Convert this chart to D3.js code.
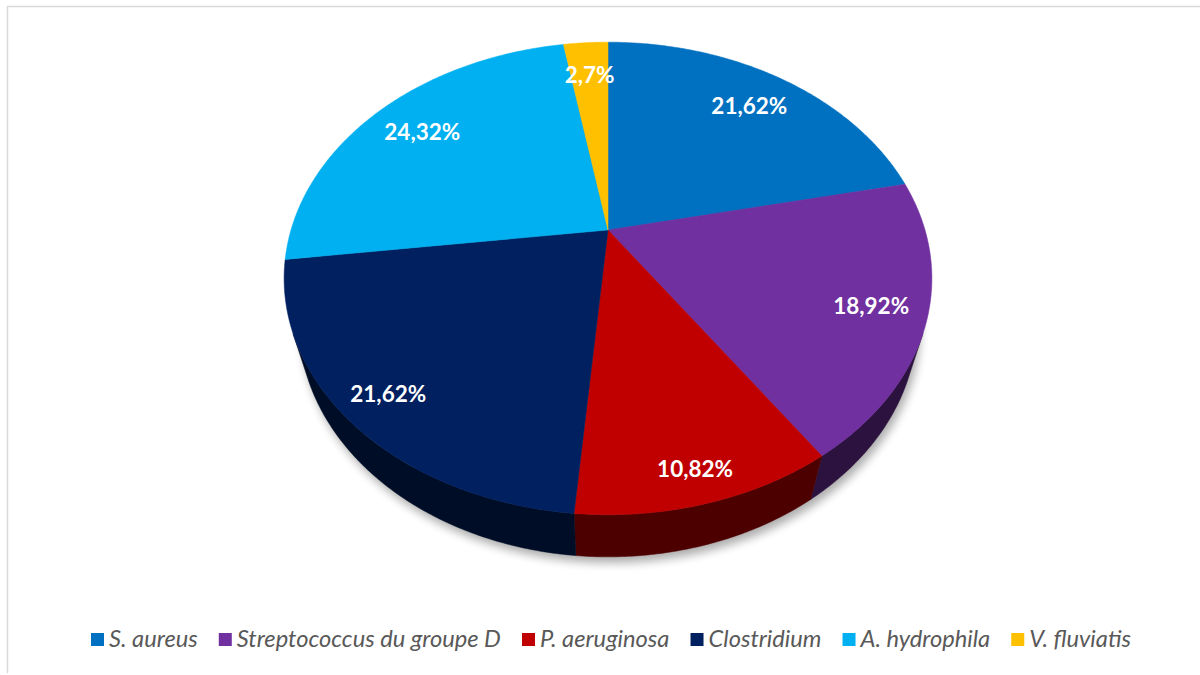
<!DOCTYPE html>
<html>
<head>
<meta charset="utf-8">
<script src="https://cdnjs.cloudflare.com/ajax/libs/d3/7.8.5/d3.min.js"></script>
<style>
  html, body { margin: 0; padding: 0; background: #ffffff; }
  svg { display: block; }
</style>
</head>
<body>
<svg id="chart" width="1200" height="675"></svg>
<script>
// Bacterial species share (%)
const categories = ["S. aureus", "Streptococcus du groupe D", "P. aeruginosa", "Clostridium", "A. hydrophila", "V. fluviatis"];
const values = [21.62, 18.92, 10.82, 21.62, 24.32, 2.7];
const colors = ["#0070C0", "#7030A0", "#C00000", "#002060", "#00B0F0", "#FFC000"];

const W = 1200, H = 675;
const svg = d3.select("#chart");

// --- perspective camera for the tilted pie ---
const cx = 608, cy = 230;        // screen position of the pie centre
const D = 3.415;                 // camera distance (pie radius = 1)
const F = 1082.6;                // focal length in px
const sinA = 0.714, cosA = Math.sqrt(1 - sinA * sinA);
const thick = 0.218;             // slab thickness

function project(theta, r, y) {
  const x = r * Math.sin(theta), z = r * Math.cos(theta);
  const depth = D - y * sinA + z * cosA;
  const up = y * cosA + z * sinA;
  return [cx + F * x / depth, cy - F * up / depth];
}

const pie = d3.pie().sort(null).value(d => d).startAngle(0).endAngle(2 * Math.PI);
const arcs = pie(values).map((a, i) => ({ ...a, color: colors[i], name: categories[i] }));

function rimPoints(a0, a1, y) {
  const n = Math.max(2, Math.ceil((a1 - a0) / (Math.PI / 360)));
  return d3.range(n + 1).map(k => project(a0 + (a1 - a0) * k / n, 1, y));
}
const line = d3.line().curve(d3.curveLinear);

// border of the chart area
svg.append("line").attr("x1", 7).attr("x2", W).attr("y1", 6.5).attr("y2", 6.5)
  .attr("stroke", "#d9d9d9").attr("stroke-width", 1.5);
svg.append("line").attr("x1", 7.5).attr("x2", 7.5).attr("y1", 6).attr("y2", 673)
  .attr("stroke", "#d9d9d9").attr("stroke-width", 1.5);

// soft drop shadow below the slab
const defs = svg.append("defs");
defs.append("filter").attr("id", "soft").attr("x", "-20%").attr("y", "-20%")
  .attr("width", "140%").attr("height", "140%")
  .append("feGaussianBlur").attr("stdDeviation", 5);

const g = svg.append("g");
g.append("path")
  .attr("d", line(rimPoints(0, 2 * Math.PI, -thick)) + "Z")
  .attr("transform", "translate(3,6)")
  .attr("fill", "#000").attr("opacity", 0.32)
  .attr("filter", "url(#soft)");

// outer side walls: only the front part that faces the camera
const cosLimit = -1 / (D * cosA);
const sides = [];
arcs.forEach(a => {
  const n = 720;
  let seg = null;
  for (let k = 0; k <= n; k++) {
    const t = a.startAngle + (a.endAngle - a.startAngle) * k / n;
    const vis = Math.cos(t) < cosLimit;
    if (vis && !seg) seg = [t, t];
    if (vis) seg[1] = t;
    if ((!vis || k === n) && seg) { sides.push({ a0: seg[0], a1: seg[1], color: a.color }); seg = null; }
  }
});
sides.forEach(s => {
  const top = rimPoints(s.a0, s.a1, 0);
  const bot = rimPoints(s.a0, s.a1, -thick).reverse();
  g.append("path")
    .attr("d", line(top.concat(bot)) + "Z")
    .attr("fill", d3.color(s.color).darker(2.6))
    .attr("stroke", d3.color(s.color).darker(2.6)).attr("stroke-width", 0.5);
});

// top faces
arcs.forEach(a => {
  const pts = [project(0, 0, 0)].concat(rimPoints(a.startAngle, a.endAngle, 0));
  g.append("path")
    .attr("d", line(pts) + "Z")
    .attr("fill", a.color)
    .attr("stroke", a.color).attr("stroke-width", 0.5);
});

// value labels
arcs.forEach(a => {
  const mid = (a.startAngle + a.endAngle) / 2;
  const r = 0.8 + 0.1 * Math.max(0, -Math.cos(mid));
  const [lx, ly] = project(mid, r, 0);
  g.append("text")
    .attr("x", lx).attr("y", ly)
    .attr("text-anchor", "middle").attr("dominant-baseline", "central")
    .attr("font-family", "Lato, 'Open Sans', sans-serif")
    .attr("font-weight", "bold").attr("font-size", 22.5)
    .attr("fill", "#ffffff")
    .text(String(a.data).replace(".", ",") + "%");
});

// legend, sized to span the width under the pie
const legend = svg.append("g");
const sq = 13, sqGap = 5, itemGap = 21;
const legendLeft = 91, legendRight = 1131;
const items = categories.map((c, i) => {
  const t = legend.append("text")
    .attr("font-family", "Lato, 'Open Sans', sans-serif")
    .attr("font-style", "italic").attr("font-size", 20)
    .attr("fill", "#595959").text(c);
  return { t, w: t.node().getComputedTextLength(), color: colors[i] };
});
const fixed = items.length * (sq + sqGap) + itemGap * (items.length - 1);
const scale = (legendRight - legendLeft - fixed) / d3.sum(items, d => d.w);
let x0 = legendLeft;
const baseY = 647;
items.forEach(it => {
  it.t.attr("font-size", 20 * scale);
  const w = it.w * scale;
  legend.append("rect").attr("x", x0).attr("y", baseY - 14).attr("width", sq).attr("height", sq)
    .attr("fill", it.color);
  it.t.attr("x", x0 + sq + sqGap).attr("y", baseY);
  x0 += sq + sqGap + w + itemGap;
});
</script>
</body>
</html>
